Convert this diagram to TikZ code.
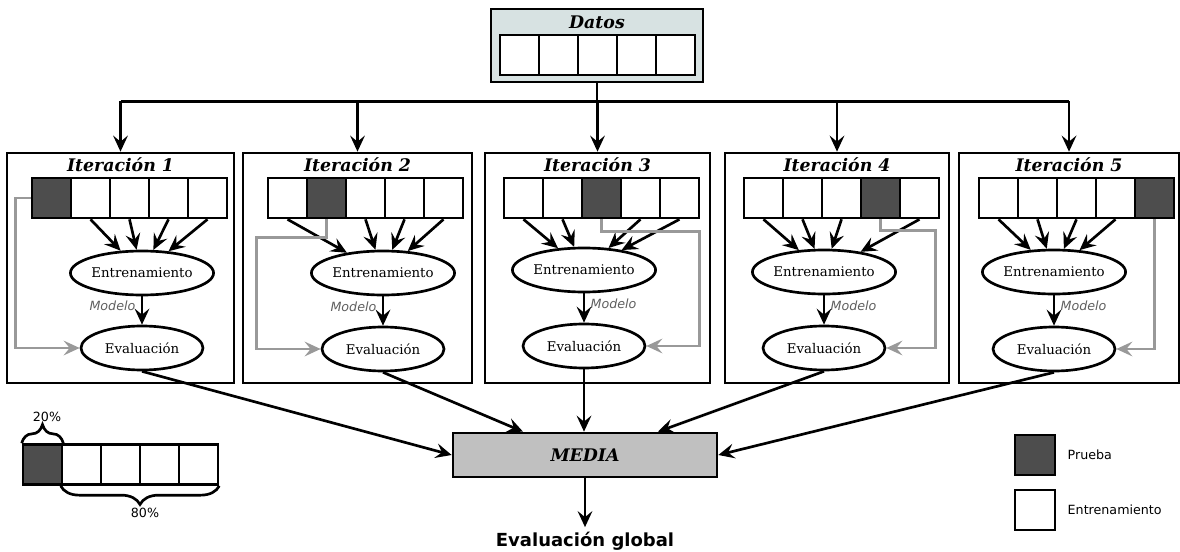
\documentclass[tikz,border=0pt]{standalone}
\usepackage{fontspec}
\setmainfont{DejaVu Serif}
\setsansfont{DejaVu Sans}
\usetikzlibrary{positioning,calc,arrows.meta,shapes.geometric,decorations.pathreplacing}
\definecolor{datosbg}{HTML}{D7E2E2}
\definecolor{pruebagray}{HTML}{4D4D4D}
\definecolor{mediabg}{HTML}{C0C0C0}
\definecolor{lineagray}{HTML}{999999}
\definecolor{modelogray}{HTML}{5F5F5F}

\tikzset{
  celda/.style={draw, line width=2pt, minimum width=29.25pt, minimum height=30pt, inner sep=0pt},
  iterbox/.style={draw, line width=2pt, minimum height=172.5pt, inner sep=0pt},
  titulo/.style={font=\bfseries\itshape\fontsize{13}{15}\selectfont},
  fase/.style={draw, ellipse, line width=2pt, minimum width=91.5pt, minimum height=33pt, inner sep=0pt, font=\fontsize{10}{12}\selectfont},
  flecha/.style={-{Stealth[length=12pt,width=11pt,inset=4.5pt]}, line width=2pt},
  flechagris/.style={flecha, line width=1.8pt, draw=lineagray},
  modelo/.style={font=\sffamily\itshape\fontsize{9.5}{11}\selectfont, text=modelogray, inner sep=4pt},
  leyenda/.style={font=\sffamily\fontsize{9.5}{11}\selectfont},
  llave/.style={line width=2pt, decorate, decoration={brace, amplitude=14pt}}
}

\begin{document}
\begin{tikzpicture}[x=0.75pt, y=-0.75pt]
  \useasboundingbox (0,0) rectangle (1180,552);

  % Datos box with its five folds
  \node[draw, line width=2pt, fill=datosbg, minimum width=159pt, minimum height=54.75pt] (datos) at (597,45.5) {};
  \node[titulo] (datostit) at (597,22) {Datos};
  \foreach \j in {1,...,5}
    \node[celda, fill=white] (d\j) at ({597.5+39*(\j-3)},55) {};

  % The five iterations
  \foreach \k/\bx/\bw/\cx/\tx/\ty/\ey in {1/120.5/170.25pt/51.5/142/273/348,
      2/357.5/171.75pt/287.5/383/273/349, 3/597.5/168.75pt/523.5/584/270/346,
      4/837/168pt/763.5/824/272/348, 5/1069/165pt/998.5/1054/272/349} {
    \node[iterbox, minimum width=\bw] (it\k) at (\bx,268) {};
    \node[titulo] (tit\k) at (\bx,165) {Iteración \k};
    \foreach \j in {1,...,5} {
      \edef\relleno{\ifnum\j=\k pruebagray\else white\fi}
      \node[celda, fill=\relleno] (c\k\j) at ({\cx+39*(\j-1)},198) {};
    }
    \node[fase] (tr\k) at (\tx,\ty) {Entrenamiento};
    \node[fase] (ev\k) at (\tx,\ey) {Evaluación};
    % training folds into Entrenamiento
    \foreach \j in {1,...,5} {
      \ifnum\j=\k\else \draw[flecha] (c\k\j.south) -- (tr\k); \fi
    }
    \edef\lado{\ifnum\k<3 east\else west\fi}
    \draw[flecha] (tr\k) -- node[modelo, pos=0.35, anchor=\lado] (mod\k) {Modelo} (ev\k);
  }

  % Test fold goes to Evaluación
  \draw[flechagris] (c11.west) -- ++(-15,0) |- (ev1.west);
  \draw[flechagris] (c22.south) -- ++(0,18) -- ++(-70,0) |- (ev2.west);
  \draw[flechagris] (c33.south) -- ++(0,12) -- ++(98,0) |- (ev3.east);
  \draw[flechagris] (c44.south) -- ++(0,11) -- ++(55,0) |- (ev4.east);
  \draw[flechagris] (c55.south) |- (ev5.east);

  % Split from Datos to every iteration
  \coordinate (reparto) at ($(datos.south)+(0,18)$);
  \draw[line width=2pt] (datos.south) -- (reparto);
  \draw[line width=2pt] (reparto -| it1.north) -- (reparto -| it5.north);
  \foreach \k in {1,...,5}
    \draw[flecha] (reparto -| it\k.north) -- (it\k.north);

  % MEDIA and global result
  \node[draw, line width=2pt, fill=mediabg, minimum width=198pt, minimum height=33pt, titulo] (media) at (585,455) {MEDIA};
  \coordinate (mediaizq) at ($(media.north)+(-62,0)$);
  \coordinate (mediader) at ($(media.north)+(73,0)$);
  \draw[flecha] (ev1.south) -- (media.west);
  \draw[flecha] (ev2.south) -- (mediaizq);
  \draw[flecha] (ev3.south) -- (media.north -| ev3.south);
  \draw[flecha] (ev4.south) -- (mediader);
  \draw[flecha] (ev5.south) -- (media.east);
  \node[font=\sffamily\bfseries\fontsize{13.5}{15}\selectfont] (global) at (585,541) {Evaluación global};
  \draw[flecha] (media.south) -- (global.north);

  % Split legend (20% / 80%)
  \foreach \j in {1,...,5} {
    \edef\relleno{\ifnum\j=1 pruebagray\else white\fi}
    \node[celda, fill=\relleno] (l\j) at ({42.5+39*(\j-1)},464.5) {};
  }
  \draw[llave] (l1.north west) -- (l1.north east);
  \node[leyenda] (p20) at (47,417) {20\%};
  \draw[llave] (l5.south east) -- (l2.south west);
  \node[leyenda] (p80) at (145,513) {80\%};

  % Colour legend
  \node[celda, fill=pruebagray, minimum width=30pt] (legp) at (1035,455) {};
  \node[leyenda, anchor=west] (legptxt) at (1063,455) {Prueba};
  \node[celda, fill=white, minimum width=30pt] (lege) at (1035,510) {};
  \node[leyenda, anchor=west] (legetxt) at (1063,510) {Entrenamiento};
\end{tikzpicture}
\end{document}
